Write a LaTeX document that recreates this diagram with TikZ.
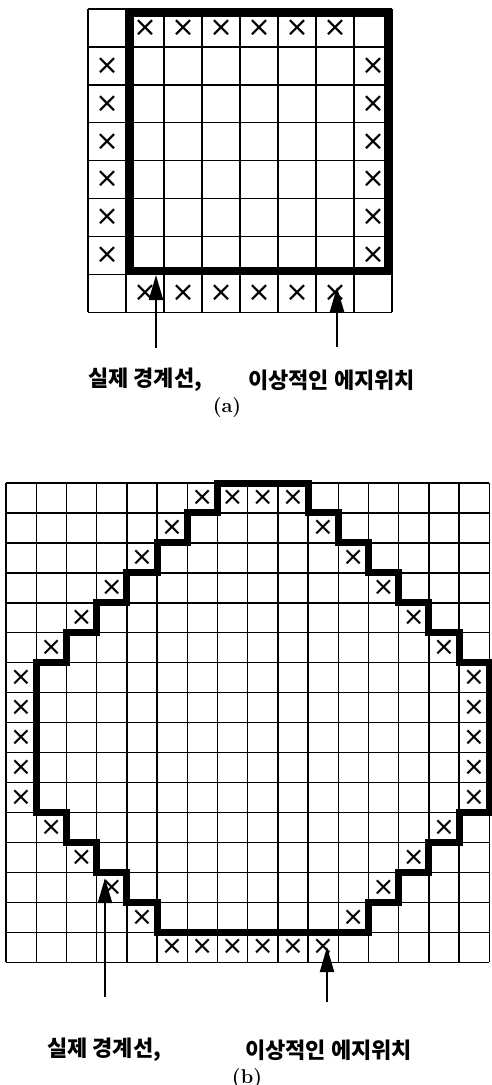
\documentclass[tikz,border=0pt]{standalone}
\usepackage{fontspec}
\newfontfamily\kr{Noto Sans CJK KR}
\newfontfamily\xf{DejaVu Sans}
\usetikzlibrary{arrows.meta}
\begin{document}
\begin{tikzpicture}[x=1pt,y=-1pt,
  thin/.style={line width=1.4pt},
  bound/.style={line width=7.5pt, line join=miter},
  xm/.style={inner sep=0pt, font=\xf\fontsize{28}{28}\selectfont},
  arr/.style={line width=2.2pt, -{Triangle[length=25pt,width=14pt]}},
  lbl/.style={inner sep=0pt, font=\kr\bfseries\fontsize{22}{22}\selectfont},
  captxt/.style={inner sep=0pt, font=\fontsize{20}{20}\selectfont\bfseries}]
\useasboundingbox (0,0) rectangle (491,1085);
\fill[white] (0,0) rectangle (491,1085);
% ---------------- (a)
\begin{scope}[shift={(88,9)}, x=38pt, y=-37.9pt]
  \foreach \i in {0,...,8} {
    \draw[thin] (\i,0) -- (\i,8);
    \draw[thin] (0,\i) -- (8,\i);
  }
  \draw[bound] (1.1,0.1) rectangle (7.9,6.9);
  \foreach \c in {1,...,6} {
    \node[xm] (xat\c) at (\c+0.5,0.5) {×};
    \node[xm] (xab\c) at (\c+0.5,7.5) {×};
    \node[xm] (xal\c) at (0.5,\c+0.5) {×};
    \node[xm] (xar\c) at (7.5,\c+0.5) {×};
  }
\end{scope}
\coordinate (sa1) at (156,348); \coordinate (ta1) at (156,275);
\coordinate (sa2) at (337,347); \coordinate (ta2) at (337,287);
\draw[arr] (sa1) -- (ta1);
\draw[arr] (sa2) -- (ta2);
\node[lbl, anchor=west] (la1) at (88,380) {실제 경계선,};
\node[lbl, anchor=west] (la2) at (248,380) {이상적인 에지위치};
\node[captxt] (capa) at (227,408) {(a)};
% ---------------- (b)
\begin{scope}[shift={(6,483)}, x=30.2pt, y=-29.95pt]
  \foreach \i in {0,...,16} {
    \draw[thin] (\i,0) -- (\i,16);
    \draw[thin] (0,\i) -- (16,\i);
  }
  \draw[bound, line width=7pt] (7,0) -- (10,0) -- (10,1) -- (11,1) -- (11,2) -- (12,2) -- (12,3)
    -- (13,3) -- (13,4) -- (14,4) -- (14,5) -- (15,5) -- (15,6) -- (16,6) -- (16,11)
    -- (15,11) -- (15,12) -- (14,12) -- (14,13) -- (13,13) -- (13,14) -- (12,14) -- (12,15)
    -- (5,15) -- (5,14) -- (4,14) -- (4,13) -- (3,13) -- (3,12) -- (2,12) -- (2,11) -- (1,11)
    -- (1,6) -- (2,6) -- (2,5) -- (3,5) -- (3,4) -- (4,4) -- (4,3) -- (5,3) -- (5,2) -- (6,2)
    -- (6,1) -- (7,1) -- cycle;
  \foreach \c/\r [count=\i] in {6/0,7/0,8/0,9/0,
      5/1,4/2,3/3,2/4,1/5,
      10/1,11/2,12/3,13/4,14/5,
      0/6,0/7,0/8,0/9,0/10,
      15/6,15/7,15/8,15/9,15/10,
      1/11,2/12,3/13,4/14,
      14/11,13/12,12/13,11/14,
      5/15,6/15,7/15,8/15,9/15,10/15}
    \node[xm, font=\xf\fontsize{26}{26}\selectfont] (xb\i) at (\c+0.5,\r+0.5) {×};
\end{scope}
\coordinate (sb1) at (105,997); \coordinate (tb1) at (105,878);
\coordinate (sb2) at (327,1002); \coordinate (tb2) at (327,947);
\draw[arr] (sb1) -- (tb1);
\draw[arr] (sb2) -- (tb2);
\node[lbl, anchor=west] (lb1) at (47,1050) {실제 경계선,};
\node[lbl, anchor=west] (lb2) at (245,1050) {이상적인 에지위치};
\node[captxt] (capb) at (247,1078) {(b)};
\end{tikzpicture}
\end{document}
